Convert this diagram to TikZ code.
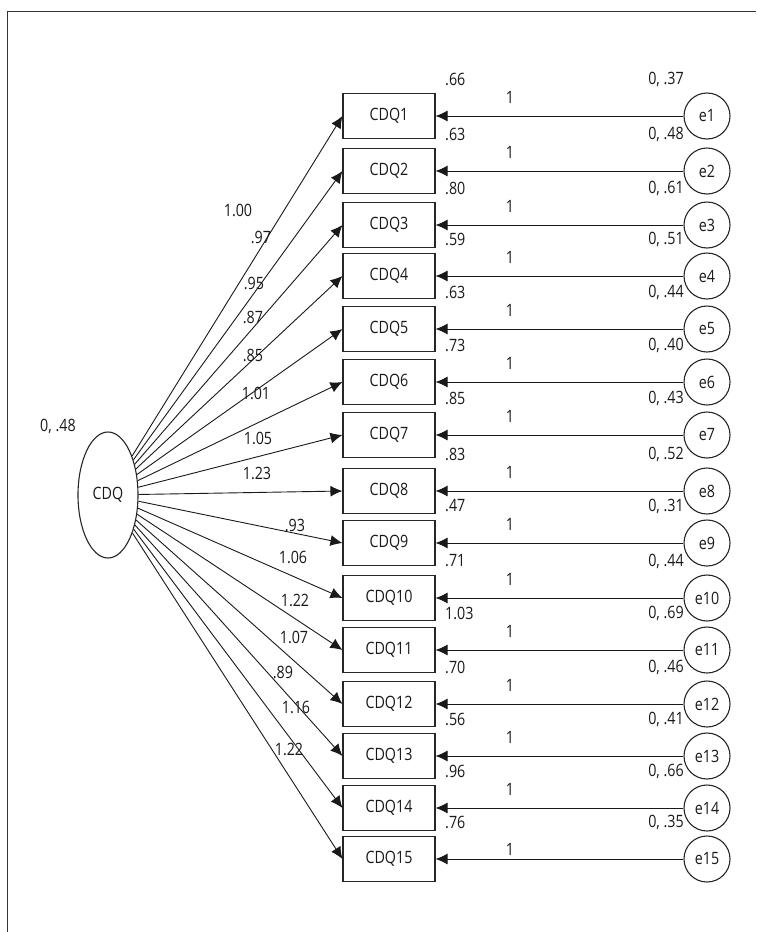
\documentclass[tikz,border=0pt]{standalone}
\usepackage{fontspec}
\setmainfont{Open Sans}[FakeStretch=0.84]
\usetikzlibrary{shapes.geometric,arrows.meta}

\begin{document}
\begin{tikzpicture}[
        x=1pt, y=-1pt,
        font=\fontsize{17}{20}\selectfont,
        item/.style={rectangle, draw=black!85, line width=1.1pt, minimum width=92pt, minimum height=45pt, inner sep=0pt, text=black!90},
        err/.style={circle, draw=black!85, line width=1.1pt, minimum size=46pt, inner sep=0pt, text=black!90},
        factor/.style={ellipse, draw=black!85, line width=1.1pt, minimum width=60pt, minimum height=126pt, inner sep=0pt, text=black!90},
        valor/.style={inner sep=0pt, text=black!90},
        flecha/.style={-{Latex[length=12pt,width=11pt]}, line width=0.9pt, draw=black!90}
    ]
        \useasboundingbox (0,0) rectangle (756,932);
        \draw[line width=0.8pt, black!80] (7,932) -- (7,11) -- (756,11);

        \node[factor] (cdq) at (108,495) {CDQ};
        \node[valor] (vcdq) at (58,426) {0, .48};

        \foreach \i/\y/\media/\evar/\carga/\cx/\cy/\alto in {
            1/116/.66/{0, .37}/1.00/238/210/12pt,
            2/171/.63/{0, .48}/.97/261/237/12pt,
            3/225/.80/{0, .61}/.95/254/283/12pt,
            4/276/.59/{0, .51}/.87/253/317/12pt,
            5/329/.63/{0, .44}/.85/253/355/12pt,
            6/382/.73/{0, .40}/1.01/256/393/12pt,
            7/435/.85/{0, .43}/1.05/258/438/12pt,
            8/491/.83/{0, .52}/1.23/257/473/12pt,
            9/543/.47/{0, .31}/.93/295/525/12pt,
            10/598/.71/{0, .44}/1.06/293/557/12pt,
            11/650/1.03/{0, .69}/1.22/295/600/12pt,
            12/704/.70/{0, .46}/1.07/294/637/12pt,
            13/756/.56/{0, .41}/.89/283/672/12pt,
            14/808/.96/{0, .66}/1.16/296/707/12pt,
            15/859/.76/{0, .35}/1.22/289/749/3pt}
        {
            \node[item] (q\i) at (389,\y) {CDQ\i};
            \node[err] (e\i) at (707,\y) {e\i};
            \draw[flecha] (e\i) -- node[valor, pos=0.7, above=\alto] (u\i) {1} (q\i);
            \draw[flecha] (cdq) -- (q\i.west);
            \node[valor, anchor=west] (m\i) at (445,\y-37) {\media};
            \node[valor, anchor=east] (v\i) at (684,\y-37) {\evar};
            \node[valor] (c\i) at (\cx,\cy) {\carga};
        }
    \end{tikzpicture}
\end{document}
